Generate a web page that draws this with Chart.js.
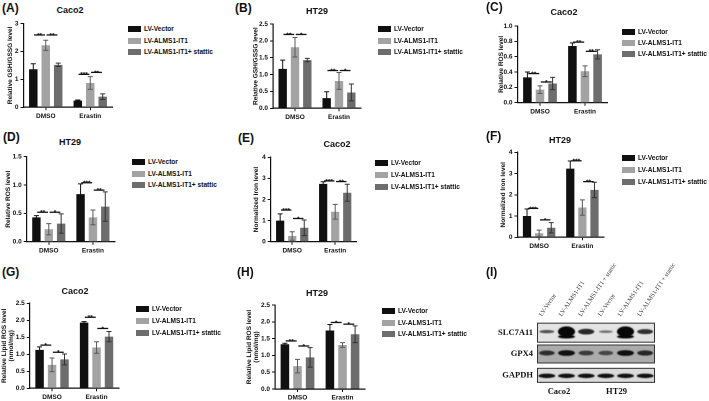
<!DOCTYPE html>
<html><head><meta charset="utf-8">
<script src="https://cdn.jsdelivr.net/npm/chart.js@4.4.0/dist/chart.umd.min.js"></script>
<style>
html,body{margin:0;padding:0;background:#fff;}
#fig{position:relative;width:709px;height:401px;overflow:hidden;font-family:'Liberation Sans',Arial,sans-serif;color:#111;}
canvas{position:absolute;}
.plbl{position:absolute;font-weight:bold;font-size:12px;line-height:12px;white-space:nowrap;}
.ttl{position:absolute;font-weight:bold;font-size:9px;line-height:9px;transform:translate(-50%,-50%);white-space:nowrap;}
.leg{position:absolute;font-weight:bold;font-size:6.6px;white-space:nowrap;}
.sw{position:absolute;width:13px;height:6px;}
.blt{position:absolute;font-family:'Liberation Serif','Times New Roman',serif;font-weight:bold;font-size:8.5px;line-height:9px;transform:translate(-50%,-50%);white-space:nowrap;}
</style></head><body><div id="fig"></div>
<script>
// ---------- shared categories ----------
const groups = ['DMSO', 'Erastin'];
const seriesNames = ['LV-Vector', 'LV-ALMS1-IT1', 'LV-ALMS1-IT1+ stattic'];

// ---------- tick labels ----------
const ticks0to3 = ['0', '1', '2', '3'];
const ticks0to4 = ['0', '1', '2', '3', '4'];
const ticks0to25 = ['0.0', '0.5', '1.0', '1.5', '2.0', '2.5'];
const ticks0to1 = ['0.0', '0.2', '0.4', '0.6', '0.8', '1.0'];
const ticks0to15 = ['0.0', '0.5', '1.0', '1.5'];

// ---------- (A) Caco2 GSH/GSSG ----------
const gshCaco2Vector = [1.36, 0.24];
const gshCaco2Alms = [2.22, 0.87];
const gshCaco2Stattic = [1.52, 0.38];
const gshCaco2Err = [[0.20, 0.02], [0.18, 0.23], [0.06, 0.10]];
const gshCaco2Sig = [[0, 0, 1, 2.59, '**'], [0, 1, 2, 2.59, '**'], [1, 0, 1, 1.18, '***'], [1, 1, 2, 1.25, '**']];

// ---------- (B) HT29 GSH/GSSG ----------
const gshHt29Vector = [1.17, 0.30];
const gshHt29Alms = [1.81, 0.81];
const gshHt29Stattic = [1.43, 0.47];
const gshHt29Err = [[0.26, 0.19], [0.29, 0.25], [0.05, 0.25]];
const gshHt29Sig = [[0, 0, 1, 2.19, '**'], [0, 1, 2, 2.19, '*'], [1, 0, 1, 1.12, '**'], [1, 1, 2, 1.12, '*']];

// ---------- (C) Caco2 ROS ----------
const rosCaco2Vector = [0.33, 0.74];
const rosCaco2Alms = [0.17, 0.41];
const rosCaco2Stattic = [0.25, 0.63];
const rosCaco2Err = [[0.07, 0.04], [0.05, 0.07], [0.08, 0.06]];
const rosCaco2Sig = [[0, 0, 1, 0.38, '**'], [0, 1, 2, 0.27, '*'], [1, 0, 1, 0.79, '**'], [1, 1, 2, 0.67, '**']];

// ---------- (D) HT29 ROS ----------
const rosHt29Vector = [0.43, 0.84];
const rosHt29Alms = [0.22, 0.43];
const rosHt29Stattic = [0.32, 0.62];
const rosHt29Err = [[0.03, 0.18], [0.10, 0.13], [0.17, 0.26]];
const rosHt29Sig = [[0, 0, 1, 0.52, '**'], [0, 1, 2, 0.52, '*'], [1, 0, 1, 1.04, '***'], [1, 1, 2, 0.91, '**']];

// ---------- (E) Caco2 Iron ----------
const ironCaco2Vector = [1.00, 2.74];
const ironCaco2Alms = [0.27, 1.42];
const ironCaco2Stattic = [0.66, 2.32];
const ironCaco2Err = [[0.32, 0.10], [0.20, 0.35], [0.37, 0.40]];
const ironCaco2Sig = [[0, 0, 1, 1.50, '***'], [0, 1, 2, 1.10, '*'], [1, 0, 1, 2.88, '***'], [1, 1, 2, 2.85, '**']];

// ---------- (F) HT29 Iron ----------
const ironHt29Vector = [1.00, 3.23];
const ironHt29Alms = [0.19, 1.40];
const ironHt29Stattic = [0.45, 2.23];
const ironHt29Err = [[0.33, 0.36], [0.15, 0.36], [0.24, 0.36]];
const ironHt29Sig = [[0, 0, 1, 1.36, '***'], [0, 1, 2, 0.82, '*'], [1, 0, 1, 3.60, '***'], [1, 1, 2, 2.62, '**']];

// ---------- (G) Caco2 Lipid ROS ----------
const lipidCaco2Vector = [1.13, 1.93];
const lipidCaco2Alms = [0.69, 1.20];
const lipidCaco2Stattic = [0.85, 1.52];
const lipidCaco2Err = [[0.09, 0.03], [0.20, 0.17], [0.16, 0.15]];
const lipidCaco2Sig = [[0, 0, 1, 1.27, '*'], [0, 1, 2, 1.06, '*'], [1, 0, 1, 2.09, '**'], [1, 1, 2, 1.76, '*']];

// ---------- (H) HT29 Lipid ROS ----------
const lipidHt29Vector = [1.33, 1.74];
const lipidHt29Alms = [0.68, 1.31];
const lipidHt29Stattic = [0.94, 1.63];
const lipidHt29Err = [[0.03, 0.18], [0.20, 0.07], [0.29, 0.25]];
const lipidHt29Sig = [[0, 0, 1, 1.43, '**'], [0, 1, 2, 1.28, '*'], [1, 0, 1, 1.98, '*'], [1, 1, 2, 1.93, '*']];

// ---------- (I) Western blot ----------
const blotLanes = ['LV-Vector', 'LV-ALMS1-IT1', 'LV-ALMS1-IT1 + stattic', 'LV-Vector', 'LV-ALMS1-IT1', 'LV-ALMS1-IT1 + stattic'];
const blotRows = ['SLC7A11', 'GPX4', 'GAPDH'];
const blotCells = ['Caco2', 'HT29'];
const slc7a11Bands = [0.55, 1.0, 0.8, 0.35, 1.0, 0.75];
const gpx4Bands = [0.7, 0.95, 0.6, 0.5, 0.95, 0.75];
const gapdhBands = [0.95, 0.95, 0.95, 0.95, 0.95, 0.95];

// ---------- styling ----------
const SANS = "'Liberation Sans', Arial, sans-serif";
const SERIF = "'Liberation Serif', 'Times New Roman', serif";
const barColors = ['#101010', '#a3a3a3', '#6d6d6d'];
const errColors = ['#111111', '#5a5a5a', '#333333'];

const panels = [
  {lbl:'(A)', title:'Caco2', ytitle:'Relative GSH/GSSG level', means:[gshCaco2Vector, gshCaco2Alms, gshCaco2Stattic], errs:gshCaco2Err, sig:gshCaco2Sig, ticks:ticks0to3,
   box:{x:0,y:15,w:117,h:110}, area:{l:23.5,t:23.5,r:112.5,b:107.3}, titleX:10, ttl:[70,10], leg:[128,29.3,11.5], lp:[2,2]},
  {lbl:'(B)', title:'HT29', ytitle:'Relative GSH/GSSG level', means:[gshHt29Vector, gshHt29Alms, gshHt29Stattic], errs:gshHt29Err, sig:gshHt29Sig, ticks:ticks0to25,
   box:{x:240,y:15,w:125,h:110}, area:{l:273,t:24,r:361,b:108.3}, titleX:255.5, ttl:[317,11], leg:[378,29.3,11.5], lp:[235,2]},
  {lbl:'(C)', title:'Caco2', ytitle:'Relative ROS level', means:[rosCaco2Vector, rosCaco2Alms, rosCaco2Stattic], errs:rosCaco2Err, sig:rosCaco2Sig, ticks:ticks0to1,
   box:{x:490,y:15,w:122,h:105}, area:{l:517.5,t:26,r:607.5,b:102.7}, titleX:501, ttl:[564,12], leg:[622,32.3,11], lp:[486,1]},
  {lbl:'(D)', title:'HT29', ytitle:'Relative ROS level', means:[rosHt29Vector, rosHt29Alms, rosHt29Stattic], errs:rosHt29Err, sig:rosHt29Sig, ticks:ticks0to15,
   box:{x:0,y:148,w:119,h:110}, area:{l:26.7,t:156.7,r:115,b:241.7}, titleX:8, ttl:[70,142], leg:[132,162.3,11.5], lp:[3,131]},
  {lbl:'(E)', title:'Caco2', ytitle:'Normalized Iron level', means:[ironCaco2Vector, ironCaco2Alms, ironCaco2Stattic], errs:ironCaco2Err, sig:ironCaco2Sig, ticks:ticks0to4,
   box:{x:240,y:148,w:121,h:110}, area:{l:270.7,t:157.3,r:356.7,b:241.7}, titleX:256, ttl:[337,144], leg:[375,162.5,12], lp:[238,132]},
  {lbl:'(F)', title:'HT29', ytitle:'Normalized Iron level', means:[ironHt29Vector, ironHt29Alms, ironHt29Stattic], errs:ironHt29Err, sig:ironHt29Sig, ticks:ticks0to4,
   box:{x:490,y:145,w:119,h:108}, area:{l:517.5,t:152.3,r:604,b:237.3}, titleX:503, ttl:[560,140], leg:[622,158.3,11.8], lp:[486,130]},
  {lbl:'(G)', title:'Caco2', ytitle:['Relative Lipid ROS level','(nmol/mg)'], means:[lipidCaco2Vector, lipidCaco2Alms, lipidCaco2Stattic], errs:lipidCaco2Err, sig:lipidCaco2Sig, ticks:ticks0to25,
   box:{x:0,y:295,w:122,h:106}, area:{l:29.8,t:303.3,r:118.8,b:388.3}, titleX:4, ttl:[75,291], leg:[136,309,12], lp:[2,266]},
  {lbl:'(H)', title:'HT29', ytitle:['Relative Lipid ROS level','(nmol/mg)'], means:[lipidHt29Vector, lipidHt29Alms, lipidHt29Stattic], errs:lipidHt29Err, sig:lipidHt29Sig, ticks:ticks0to25,
   box:{x:240,y:297,w:129,h:104}, area:{l:275,t:305,r:365,b:389}, titleX:249, ttl:[317,293], leg:[382,311,11.5], lp:[237,266]}
];

const fig = document.getElementById('fig');
function addDiv(cls, txt, x, y) {
  const d = document.createElement('div');
  d.className = cls; d.textContent = txt;
  d.style.left = x + 'px'; d.style.top = y + 'px';
  fig.appendChild(d); return d;
}
function addCanvas(box) {
  const c = document.createElement('canvas');
  c.width = box.w; c.height = box.h;
  c.style.left = box.x + 'px'; c.style.top = box.y + 'px';
  c.style.width = box.w + 'px'; c.style.height = box.h + 'px';
  fig.appendChild(c); return c;
}

const annotPlugin = {
  id: 'annot',
  afterDatasetsDraw(chart, args, opts) {
    const ctx = chart.ctx, ys = chart.scales.y;
    ctx.save();
    chart.data.datasets.forEach((ds, di) => {
      const meta = chart.getDatasetMeta(di);
      meta.data.forEach((bar, gi) => {
        const v = ds.data[gi], e = ds.errs[gi];
        const yt = ys.getPixelForValue(v + e), yb = ys.getPixelForValue(Math.max(0, v - e));
        ctx.strokeStyle = ds.errColor; ctx.lineWidth = 1;
        ctx.beginPath();
        ctx.moveTo(bar.x, yt); ctx.lineTo(bar.x, yb);
        ctx.moveTo(bar.x - 2.5, yt); ctx.lineTo(bar.x + 2.5, yt);
        ctx.moveTo(bar.x - 2.5, yb); ctx.lineTo(bar.x + 2.5, yb);
        ctx.stroke();
      });
    });
    (opts.sig || []).forEach(([g, a, b, val, txt]) => {
      const xa = chart.getDatasetMeta(a).data[g].x + 0.8;
      const xb = chart.getDatasetMeta(b).data[g].x - 0.8;
      const py = ys.getPixelForValue(val);
      ctx.strokeStyle = '#111'; ctx.lineWidth = 1.3;
      ctx.beginPath(); ctx.moveTo(xa, py); ctx.lineTo(xb, py); ctx.stroke();
      ctx.fillStyle = '#111'; ctx.font = 'bold 6.5px ' + SANS;
      ctx.textAlign = 'center'; ctx.textBaseline = 'alphabetic';
      ctx.fillText(txt, (xa + xb) / 2, py + 2.4);
    });
    ctx.restore();
  }
};

panels.forEach(p => {
  const c = addCanvas(p.box);
  const tickVals = p.ticks.map(parseFloat);
  const lh = 6.5 * 1.1;
  new Chart(c, {
    type: 'bar',
    data: {
      labels: groups,
      datasets: seriesNames.map((n, i) => ({
        label: n, data: p.means[i], errs: p.errs[i], errColor: errColors[i],
        backgroundColor: barColors[i], borderWidth: 0,
        categoryPercentage: 0.84, barPercentage: 0.68
      }))
    },
    options: {
      responsive: false, animation: false, events: [], devicePixelRatio: 2,
      layout: { padding: { left: 0, top: p.area.t - p.box.y, right: p.box.x + p.box.w - p.area.r, bottom: 0 } },
      plugins: { legend: { display: false }, title: { display: false }, tooltip: { enabled: false }, annot: { sig: p.sig } },
      scales: {
        x: {
          grid: { display: true, drawOnChartArea: false, offset: false, tickLength: 3, color: '#111', lineWidth: 1 },
          border: { color: '#111', width: 1.2 },
          ticks: { font: { family: SANS, size: 6.5, weight: 'bold' }, color: '#111', padding: 2, maxRotation: 0 },
          afterFit(s) { s.height = p.box.y + p.box.h - p.area.b; }
        },
        y: {
          min: 0, max: tickVals[tickVals.length - 1],
          grid: { display: true, drawOnChartArea: false, tickLength: 3, color: '#111', lineWidth: 1 },
          border: { color: '#111', width: 1.2 },
          ticks: { font: { family: SANS, size: 6.5, weight: 'bold' }, color: '#111', padding: 2, autoSkip: false,
                   callback: (v, i) => p.ticks[i] },
          afterBuildTicks(s) { s.ticks = tickVals.map(v => ({ value: v })); },
          title: { display: true, text: p.ytitle, color: '#111',
                   font: { family: SANS, size: 6.5, weight: 'bold', lineHeight: 1.1 },
                   padding: { top: p.titleX - p.box.x - lh / 2, bottom: 0 } },
          afterFit(s) { s.width = p.area.l - p.box.x; }
        }
      }
    },
    plugins: [annotPlugin]
  });
  addDiv('plbl', p.lbl, p.lp[0], p.lp[1]);
  addDiv('ttl', p.title, p.ttl[0], p.ttl[1]);
  seriesNames.forEach((n, i) => {
    const cy = p.leg[1] + i * p.leg[2];
    const sw = document.createElement('div');
    sw.className = 'sw'; sw.style.background = barColors[i];
    sw.style.left = p.leg[0] + 'px'; sw.style.top = (cy - 3) + 'px';
    fig.appendChild(sw);
    const tx = addDiv('leg', n, p.leg[0] + 16, cy - 4);
    tx.style.lineHeight = '8px';
  });
});

// ---------- blot panel ----------
const blotPlugin = {
  id: 'blot',
  afterDraw(chart) {
    const ctx = chart.ctx, xs = chart.scales.x, ys = chart.scales.y, ca = chart.chartArea;
    const rowsData = [slc7a11Bands, gpx4Bands, gapdhBands];
    const rowBg = ['#e3e3e3', '#ababab', '#dadada'];
    const rowH = [20, 19, 15];
    const laneW = (ca.right - ca.left) / blotLanes.length;
    rowsData.forEach((vals, r) => {
      const cy = ys.getPixelForValue(r);
      const top = cy - rowH[r] / 2;
      ctx.save();
      ctx.fillStyle = rowBg[r];
      ctx.fillRect(ca.left, top, ca.right - ca.left, rowH[r]);
      ctx.beginPath(); ctx.rect(ca.left, top, ca.right - ca.left, rowH[r]); ctx.clip();
      ctx.filter = 'blur(0.9px)';
      vals.forEach((v, i) => {
        const cx = xs.getPixelForValue(i);
        let h, w = laneW * (0.62 + 0.25 * v), by = cy - 1;
        if (r === 0) { h = 2.5 + 8 * Math.pow(v, 4); }
        else if (r === 1) { h = 3 + 3 * v; }
        else { h = 4.5; by = cy + 0.5; }
        ctx.fillStyle = 'rgba(8,8,8,' + (0.25 + 0.75 * v) + ')';
        ctx.beginPath(); ctx.ellipse(cx, by, w / 2, h / 2, 0, 0, Math.PI * 2); ctx.fill();
        if (r === 0 && v > 0.9) {
          ctx.beginPath(); ctx.ellipse(cx, cy + 4, w / 2, 1.8, 0, 0, Math.PI * 2); ctx.fill();
        }
      });
      ctx.restore();
      ctx.save();
      ctx.strokeStyle = '#333'; ctx.lineWidth = 1;
      ctx.strokeRect(ca.left + 0.5, top + 0.5, ca.right - ca.left - 1, rowH[r] - 1);
      ctx.restore();
    });
  }
};
const blotBox = { x: 470, y: 250, w: 239, h: 151 };
const blotArea = { l: 537, t: 322, r: 655, b: 386 };
const bc = addCanvas(blotBox);
new Chart(bc, {
  type: 'bar',
  data: { labels: blotLanes, datasets: [] },
  options: {
    responsive: false, animation: false, events: [], devicePixelRatio: 2,
    layout: { padding: { left: 0, top: 0, right: blotBox.x + blotBox.w - blotArea.r, bottom: blotBox.y + blotBox.h - blotArea.b } },
    plugins: { legend: { display: false }, tooltip: { enabled: false } },
    scales: {
      x: {
        type: 'category', position: 'top', offset: true,
        grid: { display: false, drawTicks: false }, border: { display: false },
        ticks: { font: { family: SERIF, size: 6.3 }, color: '#333', minRotation: 56, maxRotation: 56, autoSkip: false, padding: 4 },
        afterFit(s) { s.height = blotArea.t - blotBox.y; }
      },
      y: {
        type: 'category', labels: blotRows, offset: true,
        grid: { display: false, drawTicks: false }, border: { display: false },
        ticks: { font: { family: SERIF, size: 8.5, weight: 'bold' }, color: '#111', padding: 4, autoSkip: false },
        afterFit(s) { s.width = blotArea.l - blotBox.x; }
      }
    }
  },
  plugins: [blotPlugin]
});
addDiv('plbl', '(I)', 486, 266);
addDiv('blt', blotCells[0], 559, 391);
addDiv('blt', blotCells[1], 616.5, 391);
</script>
</body></html>
